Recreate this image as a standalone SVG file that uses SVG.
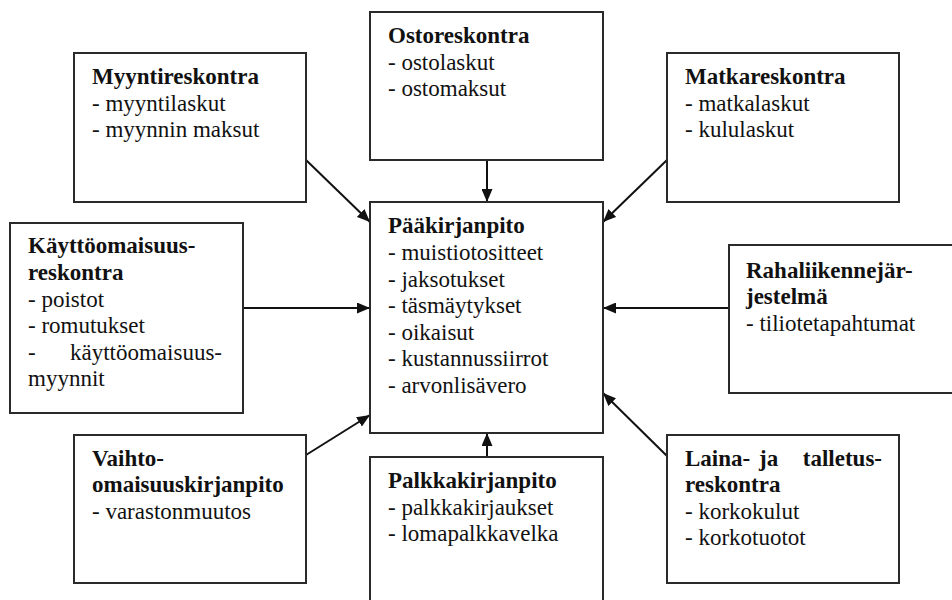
<svg xmlns="http://www.w3.org/2000/svg" width="952" height="600" viewBox="0 0 952 600" font-family="'Liberation Serif', 'Times New Roman', serif">
<defs>
<marker id="ah" viewBox="0 0 13 11" refX="13" refY="5.5" markerWidth="13" markerHeight="11" markerUnits="userSpaceOnUse" orient="auto">
<path d="M0,0 L13,5.5 L0,11 Z" fill="#111"/>
</marker>
</defs>
<style>
.box{fill:#fff;stroke:#2a2a2a;stroke-width:2}
text{font-family:'Liberation Serif','Times New Roman',serif;font-size:23px;fill:#111}
.t{font-weight:bold}
.c{fill:none;stroke:#111;stroke-width:2;marker-end:url(#ah)}
</style>
<rect width="952" height="600" fill="#fff"/>
<g id="connectors">
<line class="c" x1="487" y1="160" x2="487" y2="202"/>
<line class="c" x1="306" y1="160" x2="370" y2="222"/>
<line class="c" x1="667" y1="160" x2="603" y2="222"/>
<line class="c" x1="243" y1="308" x2="370" y2="308"/>
<line class="c" x1="729" y1="308" x2="603" y2="308"/>
<line class="c" x1="306" y1="455" x2="370" y2="415"/>
<line class="c" x1="667" y1="456" x2="603" y2="393"/>
<line class="c" x1="487" y1="457" x2="487" y2="433"/>
</g>
<g id="ostoreskontra">
<rect class="box" x="370" y="12" width="233" height="148"/>
<text class="t" x="388" y="43">Ostoreskontra</text>
<text x="388" y="70">- ostolaskut</text>
<text x="388" y="96">- ostomaksut</text>
</g>
<g id="myyntireskontra">
<rect class="box" x="74" y="53" width="232" height="149"/>
<text class="t" x="92" y="84">Myyntireskontra</text>
<text x="92" y="111">- myyntilaskut</text>
<text x="92" y="137">- myynnin maksut</text>
</g>
<g id="matkareskontra">
<rect class="box" x="667" y="53" width="232" height="149"/>
<text class="t" x="685" y="84">Matkareskontra</text>
<text x="685" y="111">- matkalaskut</text>
<text x="685" y="137">- kululaskut</text>
</g>
<g id="paakirjanpito">
<rect class="box" x="370" y="202" width="233" height="231"/>
<text class="t" x="388" y="233">Pääkirjanpito</text>
<text x="388" y="260">- muistiotositteet</text>
<text x="388" y="287">- jaksotukset</text>
<text x="388" y="313">- täsmäytykset</text>
<text x="388" y="340">- oikaisut</text>
<text x="388" y="366">- kustannussiirrot</text>
<text x="388" y="393">- arvonlisävero</text>
</g>
<g id="kayttoomaisuusreskontra">
<rect class="box" x="10" y="223" width="233" height="190"/>
<text class="t" x="28" y="253">Käyttöomaisuus-</text>
<text class="t" x="28" y="280">reskontra</text>
<text x="28" y="307">- poistot</text>
<text x="28" y="333">- romutukset</text>
<text x="28" y="360">-</text>
<text x="222" y="360" text-anchor="end">käyttöomaisuus-</text>
<text x="28" y="386">myynnit</text>
</g>
<g id="rahaliikennejarjestelma">
<rect class="box" x="729" y="245" width="240" height="148"/>
<text class="t" x="746" y="278">Rahaliikennejär-</text>
<text class="t" x="746" y="304">jestelmä</text>
<text x="746" y="331">- tiliotetapahtumat</text>
</g>
<g id="vaihto-omaisuuskirjanpito">
<rect class="box" x="74" y="435" width="232" height="148"/>
<text class="t" x="92" y="466">Vaihto-</text>
<text class="t" x="92" y="492">omaisuuskirjanpito</text>
<text x="92" y="519">- varastonmuutos</text>
</g>
<g id="palkkakirjanpito">
<rect class="box" x="370" y="457" width="233" height="160"/>
<text class="t" x="388" y="488">Palkkakirjanpito</text>
<text x="388" y="515">- palkkakirjaukset</text>
<text x="388" y="541">- lomapalkkavelka</text>
</g>
<g id="laina-ja-talletusreskontra">
<rect class="box" x="667" y="435" width="232" height="148"/>
<text class="t" x="685" y="466">Laina-</text>
<text class="t" x="759" y="466">ja</text>
<text class="t" x="882" y="466" text-anchor="end">talletus-</text>
<text class="t" x="685" y="492">reskontra</text>
<text x="685" y="519">- korkokulut</text>
<text x="685" y="545">- korkotuotot</text>
</g>
</svg>
